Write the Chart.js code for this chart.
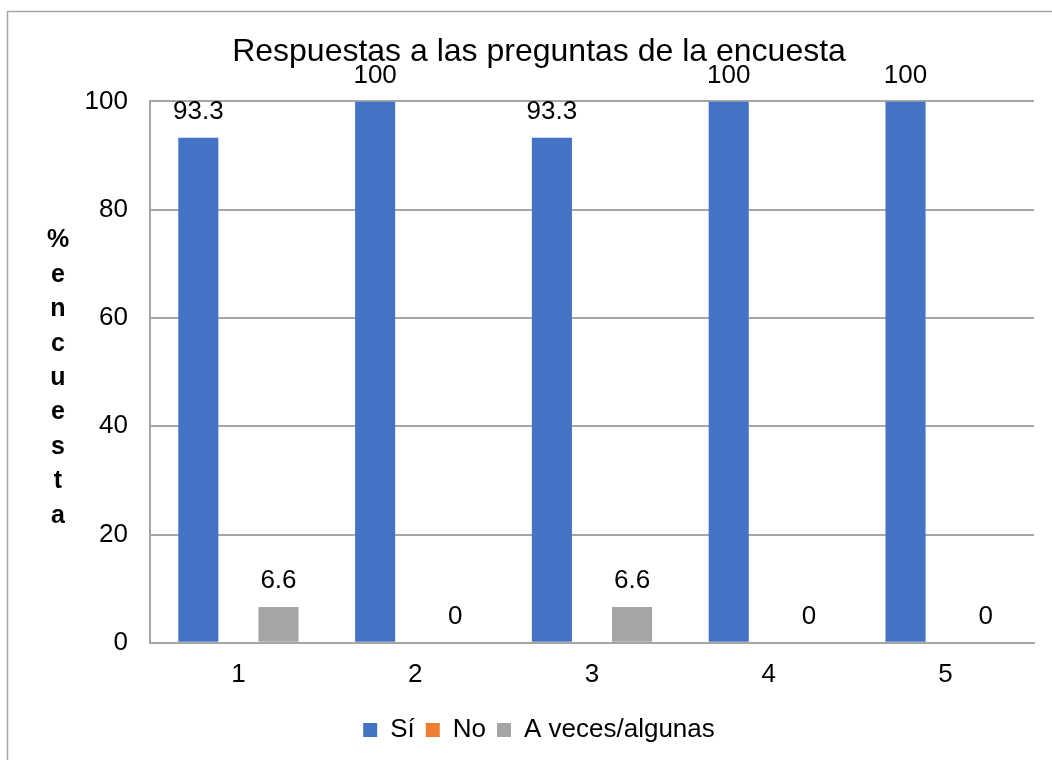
<!DOCTYPE html>
<html>
<head>
<meta charset="utf-8">
<script src="https://cdn.jsdelivr.net/npm/chart.js@4/dist/chart.umd.min.js"></script>
<style>
    html, body { margin: 0; padding: 0; background: #ffffff; }
    #wrap { width: 1052px; height: 760px; position: relative; }
</style>
</head>
<body>
<div id="wrap"><canvas id="chart" width="1052" height="760"></canvas></div>
<script>
const categories = ["1", "2", "3", "4", "5"];
const siValues = [93.3, 100, 93.3, 100, 100];
const noValues = [0, 0, 0, 0, 0];
const aVecesValues = [6.6, 0, 6.6, 0, 0];
const yTicks = [0, 20, 40, 60, 80, 100];
const chartTitle = "Respuestas a las preguntas de la encuesta";
const yAxisTitle = "% encuesta";

const fontFamily = "'Liberation Sans', Arial, sans-serif";

// frame around the chart (right and bottom edges fall outside the picture)
const framePlugin = {
    id: "frame",
    beforeDraw(chart) {
        const ctx = chart.ctx;
        ctx.save();
        ctx.strokeStyle = "#a6a6a6";
        ctx.lineWidth = 1.5;
        ctx.strokeRect(7.5, 11.5, 1100, 800);
        ctx.restore();
    }
};

// letters of the y title stacked one under another
const stackedTitlePlugin = {
    id: "stackedTitle",
    afterDraw(chart) {
        const ctx = chart.ctx;
        const letters = yAxisTitle.replace(/\s/g, "").split("");
        const step = 34.4;
        const mid = (chart.chartArea.top + chart.chartArea.bottom) / 2 + 6;
        let y = mid - step * (letters.length - 1) / 2;
        ctx.save();
        ctx.font = "bold 25px " + fontFamily;
        ctx.fillStyle = "#000000";
        ctx.textAlign = "center";
        ctx.textBaseline = "middle";
        letters.forEach(ch => {
            ctx.fillText(ch, 58, y);
            y += step;
        });
        ctx.restore();
    }
};

// value labels above the bars (Sí and A veces only)
const valueLabelPlugin = {
    id: "valueLabels",
    afterDatasetsDraw(chart) {
        const ctx = chart.ctx;
        ctx.save();
        ctx.font = "26px " + fontFamily;
        ctx.fillStyle = "#000000";
        ctx.textAlign = "center";
        ctx.textBaseline = "middle";
        chart.data.datasets.forEach((ds, i) => {
            if (!ds.showValues) return;
            chart.getDatasetMeta(i).data.forEach((bar, j) => {
                ctx.fillText(String(ds.data[j]), bar.x, bar.y - 26);
            });
        });
        ctx.restore();
    }
};

new Chart(document.getElementById("chart"), {
    type: "bar",
    plugins: [framePlugin, stackedTitlePlugin, valueLabelPlugin],
    data: {
        labels: categories,
        datasets: [
            { label: "Sí", data: siValues, backgroundColor: "#4472C4", showValues: true },
            { label: "No", data: noValues, backgroundColor: "#ED7D31", showValues: false },
            { label: "A veces/algunas", data: aVecesValues, backgroundColor: "#A5A5A5", showValues: true }
        ]
    },
    options: {
        responsive: false,
        animation: false,
        layout: { padding: { top: 14, left: 44, right: 18, bottom: 7 } },
        datasets: {
            bar: { categoryPercentage: 0.68, barPercentage: 1.0 }
        },
        plugins: {
            title: {
                display: true,
                text: chartTitle,
                color: "#000000",
                font: { family: fontFamily, size: 32, weight: "normal" },
                padding: { top: 19, bottom: 30 }
            },
            legend: {
                position: "bottom",
                labels: {
                    color: "#000000",
                    font: { family: fontFamily, size: 26 },
                    boxWidth: 14,
                    boxHeight: 14,
                    padding: 11
                }
            },
            tooltip: { enabled: false }
        },
        scales: {
            x: {
                grid: { display: false, drawTicks: false },
                border: { display: true, color: "#a6a6a6", width: 2 },
                ticks: {
                    color: "#000000",
                    font: { family: fontFamily, size: 26 },
                    padding: 16
                }
            },
            y: {
                min: 0,
                max: 100,
                afterFit(scale) { scale.width = 106; },
                afterBuildTicks(scale) { scale.ticks = yTicks.map(v => ({ value: v })); },
                grid: { color: "#a6a6a6", lineWidth: 2, drawTicks: false },
                border: { display: true, color: "#a6a6a6", width: 2 },
                ticks: {
                    color: "#000000",
                    font: { family: fontFamily, size: 26 },
                    padding: 22
                }
            }
        }
    }
});
</script>
</body>
</html>
